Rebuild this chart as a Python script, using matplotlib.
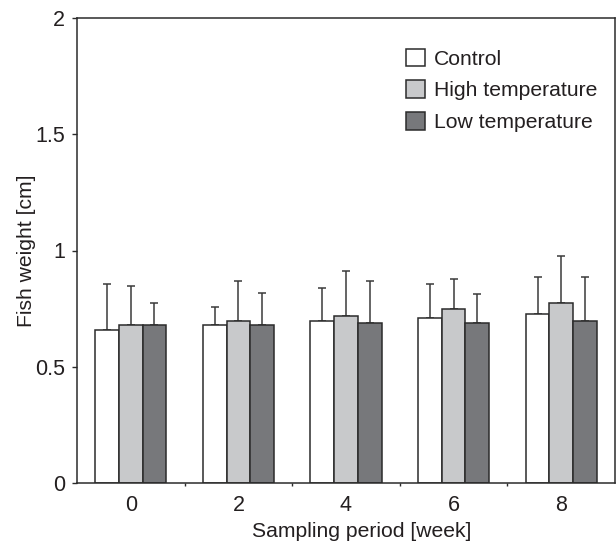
import matplotlib
matplotlib.use("Agg")
import matplotlib.pyplot as plt
import numpy as np

plt.rcParams['font.family'] = ['Liberation Sans', 'DejaVu Sans']

weeks = ["0", "2", "4", "6", "8"]
series = ["Control", "High temperature", "Low temperature"]
control = [0.657, 0.678, 0.695, 0.711, 0.727]
control_err = [0.200, 0.080, 0.144, 0.145, 0.160]
high = [0.678, 0.695, 0.718, 0.750, 0.776]
high_err = [0.169, 0.175, 0.192, 0.129, 0.200]
low = [0.678, 0.678, 0.687, 0.687, 0.697]
low_err = [0.097, 0.138, 0.183, 0.127, 0.190]

colors = ["#ffffff", "#c8c9cb", "#77787b"]
edge = "#2b2b2b"
txt = "#231f20"

fig = plt.figure(figsize=(6.16, 5.47), dpi=100)
ax = fig.add_axes([77/616, 1 - 483/547, (615-77)/616, (483-18)/547])

x = np.arange(len(weeks))
w = 0.22
for i, (vals, errs) in enumerate([(control, control_err), (high, high_err), (low, low_err)]):
    pos = x + (i - 1) * w
    ax.bar(pos, vals, width=w, color=colors[i], edgecolor=edge, linewidth=1.1,
           label=series[i], zorder=2)
    ax.errorbar(pos, vals, yerr=[np.zeros(len(errs)), errs], fmt='none',
                ecolor="#3a3a3a", elinewidth=1.1, capsize=2.6, capthick=1.1, zorder=1)

ax.set_xlim(-0.5, 4.5)
ax.set_ylim(0, 2)
ax.set_yticks([0, 0.5, 1, 1.5, 2])
ax.set_yticklabels(["0", "0.5", "1", "1.5", "2"])
ax.set_xticks(x)
ax.set_xticklabels(weeks)
ax.set_xticks([0.5, 1.5, 2.5, 3.5], minor=True)
ax.tick_params(axis='x', which='major', length=0, pad=8.5, labelsize=15.5, labelcolor=txt)
ax.tick_params(axis='x', which='minor', length=2.5, width=1.0, color=edge, direction='out')
ax.tick_params(axis='y', which='major', length=3.6, width=1.0, color=edge, direction='out',
               pad=5, labelsize=15.5, labelcolor=txt)
for s in ax.spines.values():
    s.set_linewidth(1.1)
    s.set_color(edge)

ax.set_xlabel("Sampling period [week]", fontsize=15.2, color=txt)
ax.xaxis.set_label_coords(0.529, -0.084)
ax.set_ylabel("Fish weight [cm]", fontsize=15.2, color=txt, labelpad=-1)

leg = ax.legend(loc='upper left', bbox_to_anchor=(0.611, 0.934), frameon=False,
                fontsize=15.2, handlelength=0.9, handleheight=0.9, handletextpad=0.45,
                labelspacing=0.55, borderpad=0, borderaxespad=0)
for t in leg.get_texts():
    t.set_color(txt)
for h in leg.legend_handles:
    h.set_linewidth(1.1)

fig.savefig("out.png", dpi=100)
